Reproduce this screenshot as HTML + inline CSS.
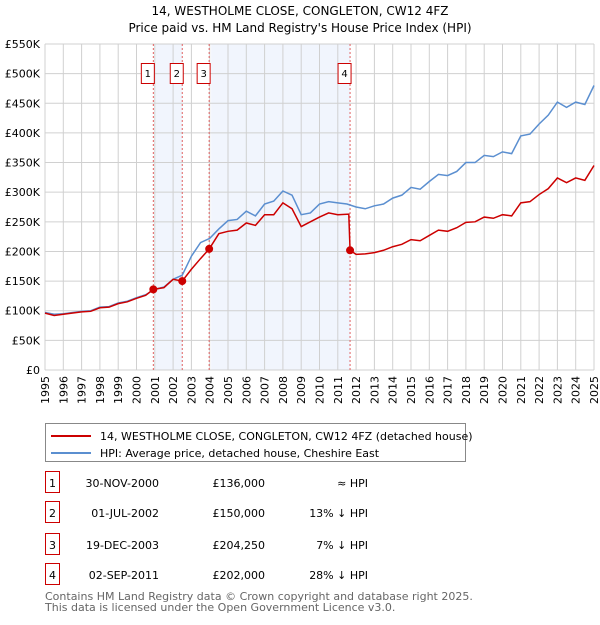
<!DOCTYPE html>
<html><head><meta charset="utf-8"><style>
body{margin:0;background:#fff;font-family:"Liberation Sans","DejaVu Sans",sans-serif;}
svg text{font-family:"DejaVu Sans","Liberation Sans",sans-serif;}
</style></head><body>
<svg id="chart" width="600" height="620" viewBox="0 0 600 620" xmlns="http://www.w3.org/2000/svg">
<text x="300" y="15" text-anchor="middle" font-size="12">14, WESTHOLME CLOSE, CONGLETON, CW12 4FZ</text>
<text x="300" y="32" text-anchor="middle" font-size="12">Price paid vs. HM Land Registry's House Price Index (HPI)</text>
<g id="shade"></g><g id="grid"></g><g id="axes"></g><g id="vlines"></g><g id="series"></g><g id="markers"></g>
<g>
<rect x="45.5" y="423.5" width="420" height="38" fill="#fff" stroke="#888"/>
<line x1="51" y1="436" x2="91" y2="436" stroke="#cc0000" stroke-width="2"/>
<text x="100" y="440" font-size="11">14, WESTHOLME CLOSE, CONGLETON, CW12 4FZ (detached house)</text>
<line x1="51" y1="453" x2="91" y2="453" stroke="#5b8fd0" stroke-width="2"/>
<text x="100" y="457" font-size="11">HPI: Average price, detached house, Cheshire East</text>
</g>
<g id="table"></g>
<text x="45" y="600" font-size="11" fill="#666">Contains HM Land Registry data © Crown copyright and database right 2025.</text>
<text x="45" y="611" font-size="11" fill="#666">This data is licensed under the Open Government Licence v3.0.</text>
</svg>
<script>
const hpiYears=[1995,1995.5,1996,1997,1997.5,1998,1998.5,1999,1999.5,2000,2000.5,2001,2001.5,2002,2002.5,2003,2003.5,2004,2004.5,2005,2005.5,2006,2006.5,2007,2007.5,2008,2008.5,2009,2009.5,2010,2010.5,2011,2011.5,2012,2012.5,2013,2013.5,2014,2014.5,2015,2015.5,2016,2016.5,2017,2017.5,2018,2018.5,2019,2019.5,2020,2020.5,2021,2021.5,2022,2022.5,2023,2023.5,2024,2024.5,2025];
const hpiValues=[97,94,95,99,100,106,107,113,116,122,127,136,140,153,160,192,215,222,238,252,254,268,260,280,285,302,295,262,265,280,284,282,280,275,272,277,280,290,295,308,305,318,330,328,335,350,350,362,360,368,365,395,398,415,430,452,443,452,448,480];
const priceYears=[1995,1995.5,1996,1997,1997.5,1998,1998.5,1999,1999.5,2000,2000.5,2000.92,2001.5,2002,2002.5,2003,2003.5,2003.97,2004.5,2005,2005.5,2006,2006.5,2007,2007.5,2008,2008.5,2009,2009.5,2010,2010.5,2011,2011.6,2011.67,2012,2012.5,2013,2013.5,2014,2014.5,2015,2015.5,2016,2016.5,2017,2017.5,2018,2018.5,2019,2019.5,2020,2020.5,2021,2021.5,2022,2022.5,2023,2023.5,2024,2024.5,2025];
const priceValues=[96,92,94,98,99,105,106,112,115,121,126,136,139,153,150,170,188,204,230,234,236,248,244,262,262,282,272,242,250,258,265,262,263,202,195,196,198,202,208,212,220,218,227,236,234,240,249,250,258,256,262,260,282,284,296,306,324,316,324,320,345];
const saleYears=[2000.92,2002.5,2003.97,2011.67];
const saleValues=[136,150,204.25,202];
const saleLabels=["1","2","3","4"];
const saleDates=["30-NOV-2000","01-JUL-2002","19-DEC-2003","02-SEP-2011"];
const salePrices=["£136,000","£150,000","£204,250","£202,000"];
const saleHpi=["≈ HPI","13% ↓ HPI","7% ↓ HPI","28% ↓ HPI"];
const yTicks=[0,50,100,150,200,250,300,350,400,450,500,550];
const xTicks=[];for(let y=1995;y<=2025;y++)xTicks.push(y);
const NS="http://www.w3.org/2000/svg";
const X0=45,X1=594,Y0=370,Y1=44;
const sx=t=>X0+(t-1995)/30*(X1-X0);
const sy=v=>Y0-v/550*(Y0-Y1);
function mk(tag,at,par){const e=document.createElementNS(NS,tag);for(const k in at)e.setAttribute(k,at[k]);document.getElementById(par).appendChild(e);return e;}
// shading
[[0,1],[2,3]].forEach(([a,b],i)=>{const r=mk('rect',{x:sx(saleYears[a])+2,y:Y1,width:sx(saleYears[b])-sx(saleYears[a])-2,height:Y0-Y1,fill:'#eef3fc',opacity:0.8},'shade');

});
xTicks.forEach(t=>{const l=mk('line',{x1:sx(t),x2:sx(t),y1:Y1,y2:Y0,stroke:'#d0d0d0'},'grid');


const tx=mk('text',{x:0,y:0,'font-size':11,'text-anchor':'end',transform:`translate(${sx(t)+4},${Y0+6}) rotate(-90)`},'axes');tx.textContent=t;

});
yTicks.forEach(v=>{const l=mk('line',{x1:X0,x2:X1,y1:sy(v),y2:sy(v),stroke:'#d0d0d0'},'grid');


const tx=mk('text',{x:X0-5,y:sy(v)+4,'font-size':11,'text-anchor':'end'},'axes');tx.textContent=v===0?'£0':'£'+v+'K';

});
saleYears.forEach((t,i)=>{const l=mk('line',{x1:sx(t),x2:sx(t),y1:Y1,y2:Y0,stroke:'#e06060','stroke-dasharray':'2,2'},'vlines');


const r=mk('rect',{x:sx(t)-12,y:63.5,width:13,height:20,fill:'#fff',stroke:'#cc0000'},'vlines');


const tx=mk('text',{x:sx(t)-5.5,y:77,'font-size':10,'text-anchor':'middle'},'vlines');tx.textContent=saleLabels[i];

});
const hp=mk('polyline',{points:hpiYears.map((t,i)=>sx(t)+','+sy(hpiValues[i])).join(' '),fill:'none',stroke:'#5b8fd0','stroke-width':1.5},'series');


const pp=mk('polyline',{points:priceYears.map((t,i)=>sx(t)+','+sy(priceValues[i])).join(' '),fill:'none',stroke:'#cc0000','stroke-width':1.5},'series');


saleYears.forEach((t,i)=>{const c=mk('circle',{cx:sx(t),cy:sy(saleValues[i]),r:4,fill:'#cc0000'},'markers');

});
const rowsY=[483,513,545,575];
saleLabels.forEach((s,i)=>{const y=rowsY[i];
const r=mk('rect',{x:45.5,y:y-11.5,width:14,height:21,fill:'#fff',stroke:'#cc0000'},'table');


const cells=[[52.5,'middle',s],[159,'end',saleDates[i]],[265,'end',salePrices[i]],[368,'end',saleHpi[i]]];
cells.forEach(([x,a,txt])=>{const tx=mk('text',{x:x,y:y+4,'font-size':11,'text-anchor':a},'table');tx.textContent=txt;

});});
</script>
</body></html>
